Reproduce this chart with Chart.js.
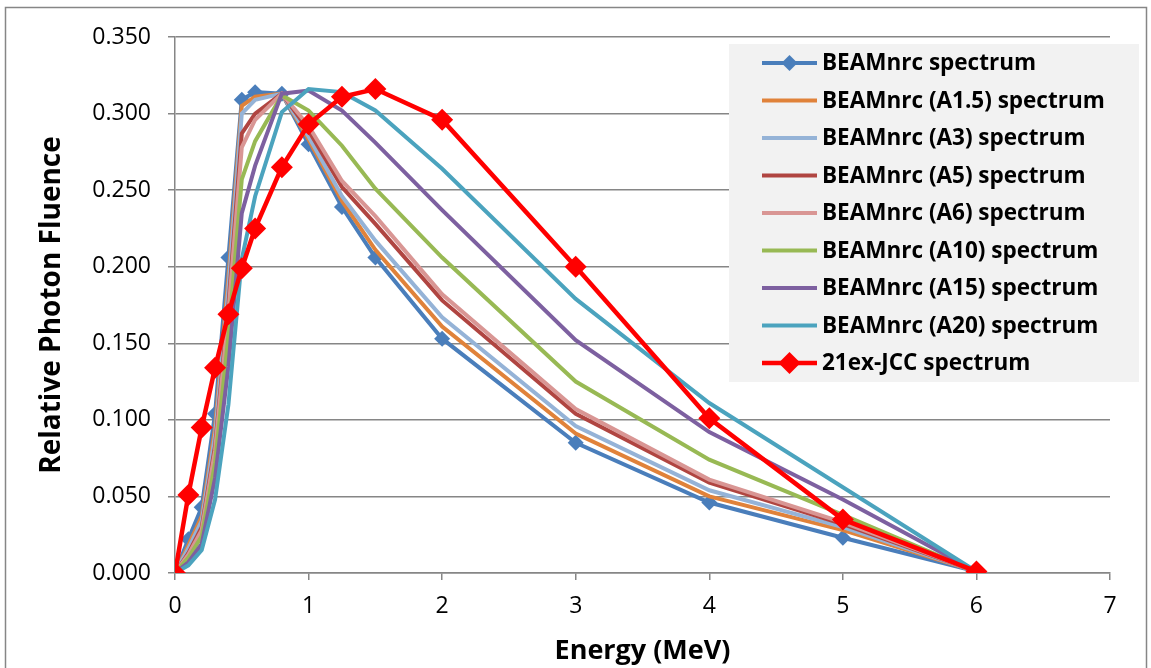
<!DOCTYPE html>
<html>
<head>
<meta charset="utf-8">
<script src="https://cdn.jsdelivr.net/npm/chart.js"></script>
<style>
  html, body { margin: 0; padding: 0; background: #fff; }
</style>
</head>
<body>
<canvas id="myChart" width="1151" height="668"></canvas>
<script>
// energy bins (MeV)
const energies = [0, 0.1, 0.2, 0.3, 0.4, 0.5, 0.6, 0.8, 1.0, 1.25, 1.5, 2, 3, 4, 5, 6];

// relative photon fluence, one array per spectrum
const beamnrc    = [0, 0.022, 0.043, 0.104, 0.206, 0.309, 0.314, 0.313, 0.280, 0.239, 0.206, 0.153, 0.085, 0.046, 0.023, 0.001];
const beamnrcA15 = [0, 0.018, 0.037, 0.095, 0.193, 0.305, 0.311, 0.313, 0.283, 0.243, 0.211, 0.161, 0.091, 0.050, 0.028, 0.001];
const beamnrcA3  = [0, 0.016, 0.034, 0.090, 0.186, 0.300, 0.309, 0.313, 0.285, 0.246, 0.217, 0.167, 0.096, 0.054, 0.030, 0.001];
const beamnrcA5  = [0, 0.013, 0.030, 0.083, 0.175, 0.287, 0.300, 0.313, 0.289, 0.252, 0.228, 0.178, 0.104, 0.059, 0.032, 0.001];
const beamnrcA6  = [0, 0.012, 0.028, 0.080, 0.170, 0.278, 0.296, 0.313, 0.292, 0.256, 0.233, 0.182, 0.107, 0.061, 0.033, 0.001];
const beamnrcA10 = [0, 0.010, 0.024, 0.072, 0.155, 0.257, 0.282, 0.312, 0.302, 0.279, 0.251, 0.206, 0.125, 0.074, 0.038, 0.001];
const beamnrcA15b = [0, 0.007, 0.019, 0.062, 0.135, 0.235, 0.266, 0.313, 0.315, 0.302, 0.281, 0.237, 0.152, 0.092, 0.048, 0.001];
const beamnrcA20 = [0, 0.005, 0.015, 0.048, 0.110, 0.205, 0.246, 0.301, 0.316, 0.314, 0.302, 0.264, 0.179, 0.111, 0.056, 0.001];
const jcc21ex    = [0, 0.051, 0.095, 0.134, 0.169, 0.199, 0.225, 0.265, 0.293, 0.311, 0.316, 0.296, 0.200, 0.101, 0.035, 0.001];

const seriesLabels = [
  'BEAMnrc spectrum',
  'BEAMnrc (A1.5) spectrum',
  'BEAMnrc (A3) spectrum',
  'BEAMnrc (A5) spectrum',
  'BEAMnrc (A6) spectrum',
  'BEAMnrc (A10) spectrum',
  'BEAMnrc (A15) spectrum',
  'BEAMnrc (A20) spectrum',
  '21ex-JCC spectrum'
];
const seriesValues = [beamnrc, beamnrcA15, beamnrcA3, beamnrcA5, beamnrcA6, beamnrcA10, beamnrcA15b, beamnrcA20, jcc21ex];
const seriesColors = ['#4A7EBB', '#E0823A', '#95B3D7', '#B04541', '#D99694', '#98B954', '#7D60A0', '#4BA3BE', '#FF0000'];

const toPoints = (vals) => vals.map((y, i) => ({ x: energies[i], y }));

const datasets = seriesValues.map((vals, i) => {
  const isBlue = i === 0;
  const isRed = i === 8;
  return {
    label: seriesLabels[i],
    data: toPoints(vals),
    borderColor: seriesColors[i],
    backgroundColor: seriesColors[i],
    borderWidth: isRed ? 4.5 : 4,
    pointStyle: 'rectRot',
    pointRadius: isRed ? 11 : (isBlue ? 8 : 0),
    pointHoverRadius: 0,
    pointBorderWidth: 0,
    tension: 0,
    order: 8 - i, // later series drawn on top, like Excel
  };
});

// outer frame + legend box drawn like the Excel chart
const frameAndLegend = {
  id: 'frameAndLegend',
  beforeDraw(chart) {
    const ctx = chart.ctx;
    ctx.save();
    ctx.fillStyle = '#fff';
    ctx.fillRect(0, 0, chart.width, chart.height);
    ctx.strokeStyle = '#868686';
    ctx.lineWidth = 1.5;
    ctx.strokeRect(5.5, 7.5, 1141, 680);
    ctx.restore();
  },
  afterDraw(chart) {
    const ctx = chart.ctx;
    ctx.save();
    ctx.fillStyle = '#F2F2F2';
    ctx.fillRect(729, 44, 410, 338);
    ctx.font = 'bold 22.5px "Open Sans"';
    ctx.textBaseline = 'middle';
    ctx.textAlign = 'left';
    chart.data.datasets.forEach((ds, i) => {
      const y = 63 + i * 37.5;
      ctx.strokeStyle = ds.borderColor;
      ctx.lineWidth = ds.borderWidth;
      ctx.beginPath();
      ctx.moveTo(762, y);
      ctx.lineTo(817, y);
      ctx.stroke();
      if (ds.pointRadius > 0) {
        const r = ds.pointRadius;
        ctx.fillStyle = ds.backgroundColor;
        ctx.beginPath();
        ctx.moveTo(789.5, y - r);
        ctx.lineTo(789.5 + r, y);
        ctx.lineTo(789.5, y + r);
        ctx.lineTo(789.5 - r, y);
        ctx.closePath();
        ctx.fill();
      }
      ctx.fillStyle = '#000';
      ctx.fillText(ds.label, 822, y + 1);
    });
    ctx.restore();
  }
};

Chart.defaults.font.family = '"Open Sans", sans-serif';
Chart.defaults.color = '#000';

const chart = new Chart(document.getElementById('myChart'), {
  type: 'line',
  data: { datasets },
  options: {
    responsive: false,
    animation: false,
    layout: { padding: { left: 30, right: 41, top: 37, bottom: 0 } },
    plugins: {
      legend: { display: false },
      tooltip: { enabled: false },
    },
    scales: {
      x: {
        type: 'linear',
        min: 0,
        max: 7,
        ticks: { stepSize: 1, padding: 13, font: { size: 23 } },
        grid: { drawOnChartArea: false, drawTicks: true, tickLength: 7, color: '#868686', lineWidth: 1.5 },
        border: { color: '#868686', width: 1.5 },
        title: { display: true, text: 'Energy (MeV)', font: { size: 27, weight: 'bold' }, padding: { top: 0, bottom: 0 } },
        afterFit(scale) { scale.height = 95; },
      },
      y: {
        min: 0,
        max: 0.35,
        ticks: {
          stepSize: 0.05,
          padding: 17,
          font: { size: 23 },
          callback: (v) => v.toFixed(3),
        },
        grid: { color: '#868686', lineWidth: 1.5, tickLength: 7 },
        border: { color: '#868686', width: 1.5 },
        title: { display: true, text: 'Relative Photon Fluence', font: { size: 28, weight: 'bold' }, padding: { top: 5, bottom: 0 } },
        afterFit(scale) { scale.width = 145; },
      },
    },
  },
  plugins: [frameAndLegend],
});
</script>
</body>
</html>
